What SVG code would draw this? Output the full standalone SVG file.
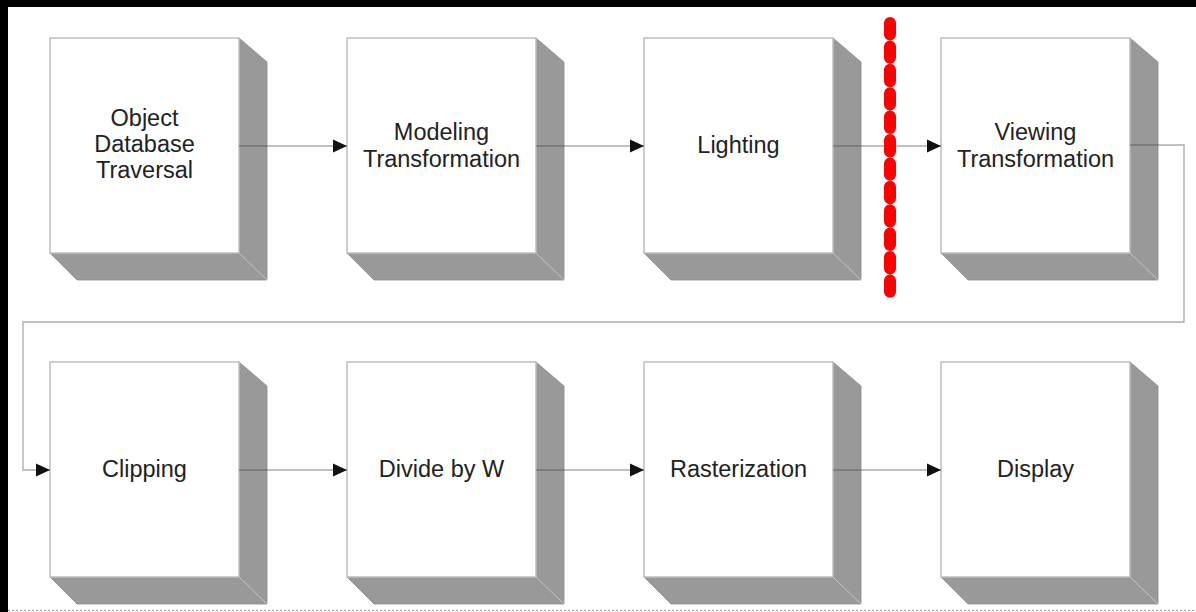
<svg xmlns="http://www.w3.org/2000/svg" width="1196" height="612" viewBox="0 0 1196 612">
  <style>
    .face { fill: #ffffff; stroke: #bdbdbd; stroke-width: 1.5; }
    .side { fill: #999999; stroke: #8c8c8c; stroke-width: 0.8; }
    .edge { stroke: #c4c4c4; stroke-width: 1; fill: none; }
    .label { font-family: "Liberation Sans", Arial, Helvetica, sans-serif; font-size: 23.5px; fill: #222222; text-anchor: middle; }
    .wire { fill: none; stroke: #444444; stroke-opacity: 0.45; stroke-width: 1.3; }
  </style>
  <defs>
    <!-- raised block: front face 189x215 with an extruded shadow to the lower right -->
    <g id="block">
      <polygon class="side" points="189,0 217,24 217,242 27,242 0,215"/>
      <line class="edge" x1="189" y1="215" x2="217" y2="242"/>
      <rect class="face" x="0" y="0" width="189" height="215"/>
    </g>
    <marker id="arrow" markerWidth="14" markerHeight="14" refX="14" refY="7" orient="auto" markerUnits="userSpaceOnUse">
      <path d="M0,0.5 L14,7 L0,13.5 Z" fill="#111111"/>
    </marker>
  </defs>

  <!-- page -->
  <rect x="0" y="0" width="1196" height="612" fill="#ffffff"/>
  <rect x="0" y="0" width="1196" height="7" fill="#000000"/>
  <rect x="0" y="0" width="8" height="612" fill="#000000"/>
  <line x1="8" y1="610.5" x2="1196" y2="610.5" stroke="#9a9a9a" stroke-width="1" stroke-dasharray="2 2"/>

  <!-- pipeline stages, row 1 -->
  <g id="node-object-database-traversal">
    <use href="#block" x="50" y="38"/>
    <text class="label" x="144.5" y="126">Object</text>
    <text class="label" x="144.5" y="152">Database</text>
    <text class="label" x="144.5" y="178">Traversal</text>
  </g>
  <g id="node-modeling-transformation">
    <use href="#block" x="347" y="38"/>
    <text class="label" x="441.5" y="140">Modeling</text>
    <text class="label" x="441.5" y="167">Transformation</text>
  </g>
  <g id="node-lighting">
    <use href="#block" x="644" y="38"/>
    <text class="label" x="738.5" y="153">Lighting</text>
  </g>
  <g id="node-viewing-transformation">
    <use href="#block" x="941" y="38"/>
    <text class="label" x="1035.5" y="140">Viewing</text>
    <text class="label" x="1035.5" y="167">Transformation</text>
  </g>

  <!-- pipeline stages, row 2 -->
  <g id="node-clipping">
    <use href="#block" x="50" y="362"/>
    <text class="label" x="144.5" y="477">Clipping</text>
  </g>
  <g id="node-divide-by-w">
    <use href="#block" x="347" y="362"/>
    <text class="label" x="441.5" y="477">Divide by W</text>
  </g>
  <g id="node-rasterization">
    <use href="#block" x="644" y="362"/>
    <text class="label" x="738.5" y="477">Rasterization</text>
  </g>
  <g id="node-display">
    <use href="#block" x="941" y="362"/>
    <text class="label" x="1035.5" y="477">Display</text>
  </g>

  <!-- connectors -->
  <g id="connectors">
    <line class="wire" x1="239" y1="146" x2="347" y2="146" marker-end="url(#arrow)"/>
    <line class="wire" x1="536" y1="146" x2="644" y2="146" marker-end="url(#arrow)"/>
    <line class="wire" x1="833" y1="146" x2="941" y2="146" marker-end="url(#arrow)"/>
    <polyline class="wire" points="1130,145 1184,145 1184,322 23,322 23,470 50,470" marker-end="url(#arrow)"/>
    <line class="wire" x1="239" y1="470" x2="347" y2="470" marker-end="url(#arrow)"/>
    <line class="wire" x1="536" y1="470" x2="644" y2="470" marker-end="url(#arrow)"/>
    <line class="wire" x1="833" y1="470" x2="941" y2="470" marker-end="url(#arrow)"/>
  </g>

  <!-- red split marker between lighting and viewing -->
  <line x1="890" y1="23" x2="890" y2="292" stroke="#ff0000" stroke-width="12" stroke-linecap="round" stroke-dasharray="11.4 12"/>
</svg>
